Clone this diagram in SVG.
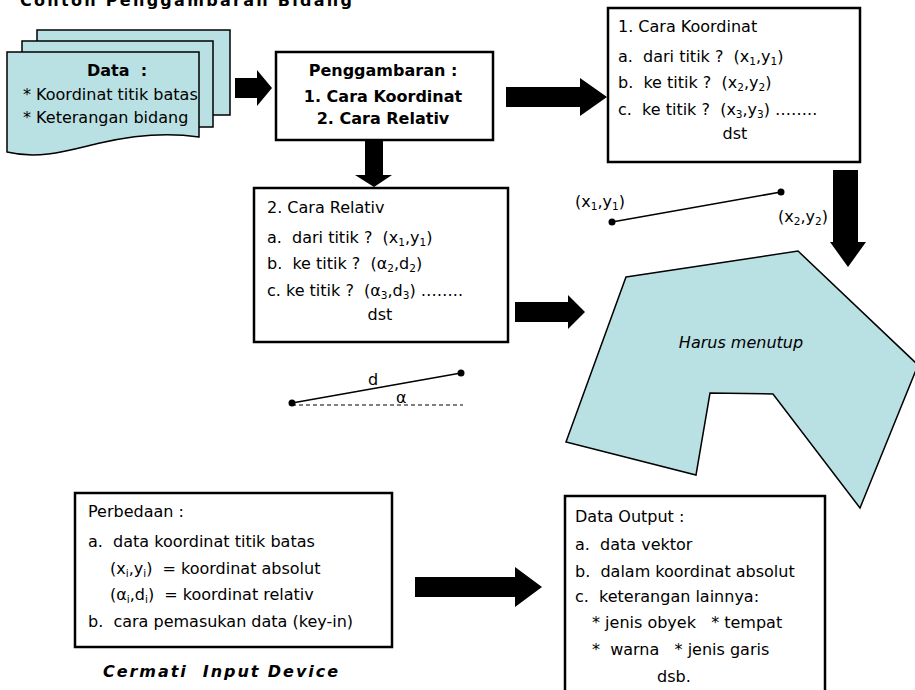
<svg xmlns="http://www.w3.org/2000/svg" width="915" height="690" viewBox="0 0 915 690">
<style>
.t{font-family:"Comic Sans MS","DejaVu Sans",sans-serif;font-size:16px;fill:#000;white-space:pre}
.b{font-weight:bold}
.box{fill:#fff;stroke:#000;stroke-width:2.5}
.cy{fill:#B9E0E3;stroke:#000;stroke-width:1.5}
.ar{fill:#000}
.ln{stroke:#000;stroke-width:1.5;fill:none}
.sub{font-size:10.5px}
</style>
<rect width="915" height="690" fill="#fff"/>
<text class="t b" x="20" y="6" font-size="17" textLength="332">Contoh Penggambaran Bidang</text>
<g id="data">
<rect class="cy" x="37" y="30" width="193" height="85"/>
<rect class="cy" x="22" y="41" width="191" height="86"/>
<path class="cy" d="M7,52 H199 V137 C165,132 130,136 100,143 C70,150 40,160 7,152 Z"/>
<text class="t b" x="117" y="76" font-size="19" text-anchor="middle">Data  :</text>
<text class="t" x="23" y="100" font-size="13">* Koordinat titik batas</text>
<text class="t" x="23" y="123" font-size="13">* Keterangan bidang</text>
</g>
<g id="penggambaran">
<rect class="box" x="276" y="52" width="217" height="88"/>
<text class="t b" x="383" y="76" font-size="18" text-anchor="middle">Penggambaran :</text>
<text class="t b" x="383" y="102" font-size="11.5" text-anchor="middle">1. Cara Koordinat</text>
<text class="t b" x="383" y="124" font-size="11.5" text-anchor="middle">2. Cara Relativ</text>
</g>
<g id="cara-koordinat">
<rect class="box" x="608" y="8" width="252" height="154"/>
<text class="t" x="618" y="32" font-size="18">1. Cara Koordinat</text>
<text class="t" x="618" y="62">a.  dari titik ?  (x<tspan class="sub" dy="3">1</tspan><tspan dy="-3">,y</tspan><tspan class="sub" dy="3">1</tspan><tspan dy="-3">)</tspan></text>
<text class="t" x="618" y="88">b.  ke titik ?  (x<tspan class="sub" dy="3">2</tspan><tspan dy="-3">,y</tspan><tspan class="sub" dy="3">2</tspan><tspan dy="-3">)</tspan></text>
<text class="t" x="618" y="115">c.  ke titik ?  (x<tspan class="sub" dy="3">3</tspan><tspan dy="-3">,y</tspan><tspan class="sub" dy="3">3</tspan><tspan dy="-3">) ……..</tspan></text>
<text class="t" x="735" y="139" text-anchor="middle">dst</text>
</g>
<g id="cara-relativ">
<rect class="box" x="254" y="188" width="254" height="154"/>
<text class="t" x="267" y="213" font-size="18">2. Cara Relativ</text>
<text class="t" x="267" y="243">a.  dari titik ?  (x<tspan class="sub" dy="3">1</tspan><tspan dy="-3">,y</tspan><tspan class="sub" dy="3">1</tspan><tspan dy="-3">)</tspan></text>
<text class="t" x="267" y="269">b.  ke titik ?  (α<tspan class="sub" dy="3">2</tspan><tspan dy="-3">,d</tspan><tspan class="sub" dy="3">2</tspan><tspan dy="-3">)</tspan></text>
<text class="t" x="267" y="296">c. ke titik ?  (α<tspan class="sub" dy="3">3</tspan><tspan dy="-3">,d</tspan><tspan class="sub" dy="3">3</tspan><tspan dy="-3">) ……..</tspan></text>
<text class="t" x="380" y="320" text-anchor="middle">dst</text>
</g>
<g id="segment-xy">
<line class="ln" x1="612" y1="222" x2="781" y2="192"/>
<circle cx="612" cy="222" r="3.5"/>
<circle cx="781" cy="192" r="3.5"/>
<text class="t" x="575" y="207">(x<tspan class="sub" dy="3">1</tspan><tspan dy="-3">,y</tspan><tspan class="sub" dy="3">1</tspan><tspan dy="-3">)</tspan></text>
<text class="t" x="778" y="222">(x<tspan class="sub" dy="3">2</tspan><tspan dy="-3">,y</tspan><tspan class="sub" dy="3">2</tspan><tspan dy="-3">)</tspan></text>
</g>
<g id="segment-d">
<line class="ln" x1="292" y1="403" x2="461" y2="373"/>
<line x1="292" y1="405" x2="463" y2="405" stroke="#000" stroke-width="1" stroke-dasharray="4,3"/>
<circle cx="292" cy="403" r="3.5"/>
<circle cx="461" cy="373" r="3.5"/>
<text class="t" x="368" y="385" font-size="19">d</text>
<text class="t" x="396" y="403" font-size="17">α</text>
</g>
<g id="polygon">
<path class="cy" d="M626,277 L798,251 L918,365 L860,508 L773,394 L710,393 L696,475 L566,442 Z"/>
<text class="t" x="741" y="348" font-size="16.5" font-style="italic" text-anchor="middle">Harus menutup</text>
</g>
<g id="perbedaan">
<rect class="box" x="75" y="493" width="317" height="154"/>
<text class="t" x="88" y="517" font-size="17">Perbedaan :</text>
<text class="t" x="88" y="547" font-size="16.5">a.  data koordinat titik batas</text>
<text class="t" x="110" y="574" font-size="16.5">(x<tspan class="sub" dy="3">i</tspan><tspan dy="-3">,y</tspan><tspan class="sub" dy="3">i</tspan><tspan dy="-3">)  = koordinat absolut</tspan></text>
<text class="t" x="110" y="600" font-size="16.5">(α<tspan class="sub" dy="3">i</tspan><tspan dy="-3">,d</tspan><tspan class="sub" dy="3">i</tspan><tspan dy="-3">)  = koordinat relativ</tspan></text>
<text class="t" x="88" y="627" font-size="16.5">b.  cara pemasukan data (key-in)</text>
</g>
<text class="t b" x="103" y="677" font-size="19" font-style="italic" textLength="235">Cermati  Input Device</text>
<g id="data-output">
<rect class="box" x="565" y="496" width="260" height="210"/>
<text class="t" x="575" y="522" font-size="17">Data Output :</text>
<text class="t" x="575" y="550" font-size="16.5">a.  data vektor</text>
<text class="t" x="575" y="577" font-size="16.5">b.  dalam koordinat absolut</text>
<text class="t" x="575" y="602" font-size="16.5">c.  keterangan lainnya:</text>
<text class="t" x="592" y="628" font-size="16.5">* jenis obyek   * tempat</text>
<text class="t" x="592" y="655" font-size="16.5">*  warna   * jenis garis</text>
<text class="t" x="657" y="682" font-size="16.5">dsb.</text>
</g>
<g id="connectors">
<path class="ar" d="M235,78 H257 V70 L272,88 L257,106 V98 H235 Z"/>
<path class="ar" d="M365,140 H383 V175 H392 L374,187 L355,175 H365 Z"/>
<path class="ar" d="M506,87 H580 V78 L607,97 L580,116 V107 H506 Z"/>
<path class="ar" d="M833,170 H858 V242 H866 L848,267 L830,242 H833 Z"/>
<path class="ar" d="M515,302 H568 V295 L585,312 L568,329 V322 H515 Z"/>
<path class="ar" d="M415,577 H515 V567 L542,587 L515,607 V597 H415 Z"/>
</g>
</svg>
